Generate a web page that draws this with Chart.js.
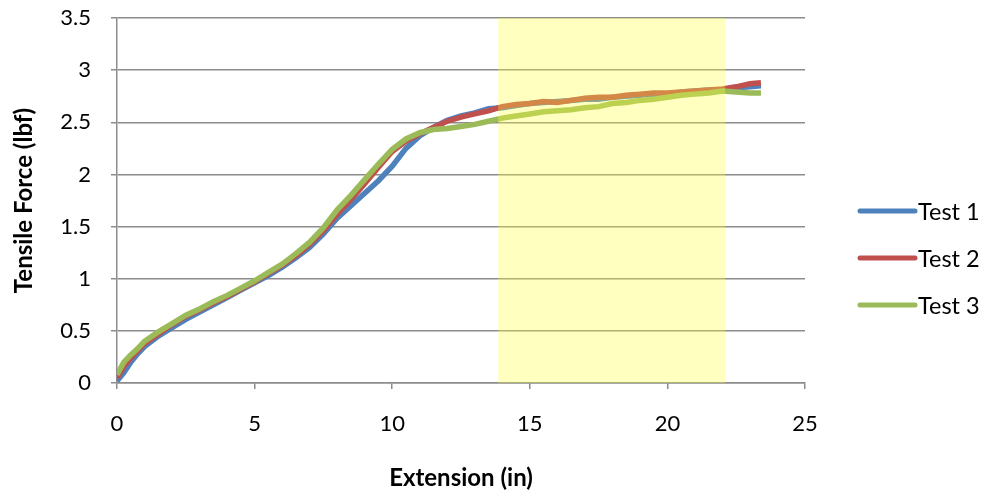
<!DOCTYPE html>
<html lang="en">
<head>
    <meta charset="UTF-8">
    <title>Tensile Force vs Extension</title>
    <script src="https://cdn.jsdelivr.net/npm/chart.js"></script>
    <style>
        html, body {
            margin: 0;
            padding: 0;
            background-color: #fff;
        }
        #wrap {
            width: 987px;
            height: 497px;
        }
    </style>
</head>
<body>
    <div id="wrap">
        <canvas id="forceChart" width="987" height="497"></canvas>
    </div>

    <script>
        // Dados
        var extension = [0, 0.25, 0.5, 0.75, 1, 1.5, 2, 2.5, 3, 3.5, 4, 4.5, 5, 5.5, 6, 6.5, 7, 7.5, 8, 8.5,
            9, 9.5, 10, 10.5, 11, 11.5, 12, 12.5, 13, 13.5, 14, 14.5, 15, 15.5, 16, 16.5, 17, 17.5, 18, 18.5,
            19, 19.5, 20, 20.5, 21, 21.5, 22, 22.5, 23, 23.4];
        var test1 = [0.02, 0.10, 0.20, 0.28, 0.35, 0.45, 0.53, 0.61, 0.68, 0.75, 0.82, 0.89, 0.96, 1.03, 1.11, 1.20, 1.30, 1.43, 1.58, 1.70,
            1.82, 1.94, 2.08, 2.25, 2.37, 2.45, 2.52, 2.56, 2.59, 2.63, 2.64, 2.66, 2.68, 2.69, 2.70, 2.71, 2.72, 2.72, 2.74, 2.75,
            2.76, 2.77, 2.77, 2.79, 2.80, 2.81, 2.81, 2.83, 2.84, 2.85];
        var test2 = [0.05, 0.16, 0.24, 0.31, 0.38, 0.47, 0.56, 0.64, 0.70, 0.77, 0.83, 0.90, 0.97, 1.05, 1.13, 1.22, 1.33, 1.46, 1.62, 1.76,
            1.91, 2.07, 2.22, 2.32, 2.39, 2.45, 2.51, 2.55, 2.58, 2.61, 2.65, 2.67, 2.68, 2.70, 2.69, 2.71, 2.73, 2.74, 2.74, 2.76,
            2.77, 2.78, 2.78, 2.79, 2.80, 2.81, 2.82, 2.84, 2.87, 2.88];
        var test3 = [0.08, 0.20, 0.27, 0.33, 0.40, 0.49, 0.57, 0.65, 0.71, 0.78, 0.84, 0.91, 0.98, 1.06, 1.14, 1.24, 1.35, 1.49, 1.66, 1.80,
            1.95, 2.10, 2.24, 2.34, 2.40, 2.43, 2.44, 2.46, 2.48, 2.51, 2.54, 2.56, 2.58, 2.60, 2.61, 2.62, 2.64, 2.65, 2.68, 2.69,
            2.71, 2.72, 2.74, 2.76, 2.77, 2.78, 2.80, 2.79, 2.78, 2.78];
        var seriesNames = ['Test 1', 'Test 2', 'Test 3'];
        var seriesColors = ['#4F81BD', '#C0504D', '#9BBB59'];
        var highlightStart = 13.85;
        var highlightEnd = 22.1;

        function toPoints(ys) {
            return extension.map(function(x, i) { return { x: x, y: ys[i] }; });
        }

        // Faixa amarela (desenhada por cima das linhas, translúcida)
        var bandPlugin = {
            id: 'band',
            afterDatasetsDraw: function(chart) {
                var ctx = chart.ctx;
                var xs = chart.scales.x, ys = chart.scales.y;
                var l = xs.getPixelForValue(highlightStart);
                var r = xs.getPixelForValue(highlightEnd);
                ctx.save();
                ctx.fillStyle = 'rgba(255, 255, 60, 0.32)';
                ctx.fillRect(l, ys.top, r - l, ys.bottom - ys.top);
                ctx.restore();
            }
        };

        // Legenda à direita
        var legendPlugin = {
            id: 'sideLegend',
            afterDraw: function(chart) {
                var ctx = chart.ctx;
                ctx.save();
                ctx.font = '23.5px Lato';
                ctx.textBaseline = 'middle';
                seriesNames.forEach(function(name, i) {
                    var y = 211 + i * 47;
                    ctx.strokeStyle = seriesColors[i];
                    ctx.lineWidth = 5;
                    ctx.lineCap = 'round';
                    ctx.beginPath();
                    ctx.moveTo(860, y);
                    ctx.lineTo(915, y);
                    ctx.stroke();
                    ctx.fillStyle = '#000';
                    ctx.fillText(name, 918, y + 1);
                });
                ctx.restore();
            }
        };

        var datasets = seriesNames.map(function(name, i) {
            return {
                label: name,
                data: toPoints([test1, test2, test3][i]),
                showLine: true,
                borderColor: seriesColors[i],
                backgroundColor: seriesColors[i],
                borderWidth: 5.5,
                pointRadius: 0,
                tension: 0,
                order: 2 - i
            };
        });

        var ctx = document.getElementById('forceChart').getContext('2d');
        var chart = new Chart(ctx, {
            type: 'scatter',
            data: { datasets: datasets },
            options: {
                responsive: false,
                animation: false,
                layout: { autoPadding: false, padding: { left: 0, top: 18, right: 182, bottom: 0 } },
                plugins: {
                    legend: { display: false },
                    tooltip: { enabled: false }
                },
                scales: {
                    x: {
                        min: 0,
                        max: 25,
                        ticks: { stepSize: 5, color: '#000', padding: 22, font: { family: 'Lato', size: 22 } },
                        grid: { drawOnChartArea: false, drawTicks: true, tickLength: 6, color: '#8c8c8c', lineWidth: 1.5 },
                        border: { color: '#8c8c8c', width: 1.5 },
                        title: {
                            display: true,
                            text: 'Extension (in)',
                            color: '#000',
                            font: { family: 'Lato', size: 24, weight: 'bold' },
                            padding: { top: 0, bottom: 4 }
                        },
                        afterFit: function(scale) {
                            scale.height = 114;
                            scale.paddingLeft = 0;
                            scale.paddingRight = 0;
                        }
                    },
                    y: {
                        min: 0,
                        max: 3.5,
                        ticks: {
                            stepSize: 0.5,
                            color: '#000',
                            padding: 20,
                            font: { family: 'Lato', size: 22 },
                            callback: function(v) { return String(v); }
                        },
                        grid: { drawTicks: true, tickLength: 6, color: '#8c8c8c', lineWidth: 1.5 },
                        border: { color: '#8c8c8c', width: 1.5 },
                        title: {
                            display: true,
                            text: 'Tensile Force (lbf)',
                            color: '#000',
                            font: { family: 'Lato', size: 24, weight: 'bold' },
                            padding: { top: 10, bottom: 0 }
                        },
                        afterFit: function(scale) {
                            scale.width = 117;
                            scale.paddingTop = 0;
                            scale.paddingBottom = 0;
                        }
                    }
                }
            },
            plugins: [bandPlugin, legendPlugin]
        });
    </script>
</body>
</html>
